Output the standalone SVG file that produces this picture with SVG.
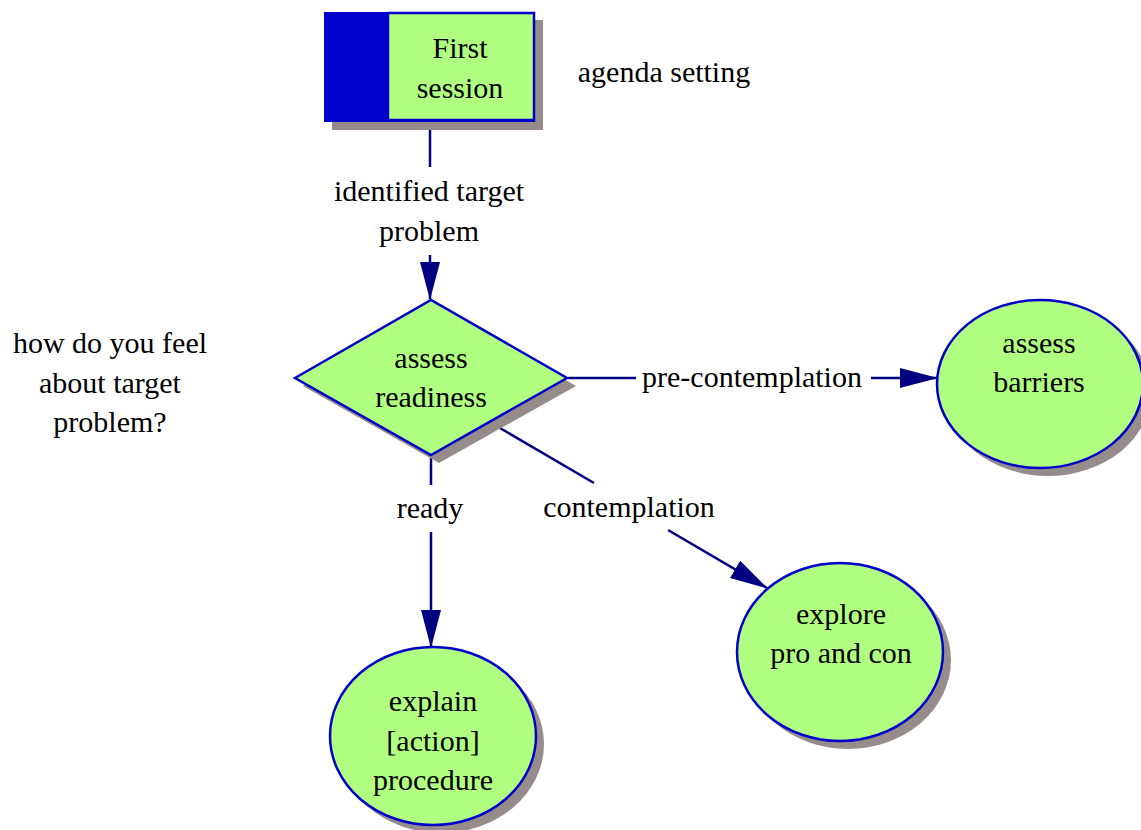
<svg xmlns="http://www.w3.org/2000/svg" width="1141" height="830" viewBox="0 0 1141 830">
  <defs>
    <marker id="arrow" markerWidth="38" markerHeight="20" refX="37" refY="10" orient="auto" markerUnits="userSpaceOnUse">
      <path d="M0,0 L38,10 L0,20 Z" fill="#000080"/>
    </marker>
  </defs>
  <style>
    .shadow { fill: #968c8c; }
    .node { fill: #b0ff80; stroke: #0000cc; stroke-width: 2.5; }
    .edge { fill: none; stroke: #000080; stroke-width: 2.5; }
    .lbl { font-family: 'Liberation Serif', 'Times New Roman', serif; font-size: 30px; fill: #000; text-anchor: middle; }
  </style>

  <!-- connectors -->
  <g id="connectors">
    <line class="edge" x1="430" y1="122" x2="430" y2="167"/>
    <line class="edge" x1="430" y1="255" x2="430" y2="299" marker-end="url(#arrow)"/>
    <text class="lbl" x="429" y="201">identified target</text>
    <text class="lbl" x="429" y="241">problem</text>

    <line class="edge" x1="568" y1="378" x2="636" y2="378"/>
    <line class="edge" x1="871" y1="378" x2="937" y2="378" marker-end="url(#arrow)"/>
    <text class="lbl" x="752" y="387">pre-contemplation</text>

    <line class="edge" x1="431" y1="457" x2="431" y2="485"/>
    <line class="edge" x1="431" y1="532" x2="431" y2="647" marker-end="url(#arrow)"/>
    <text class="lbl" x="430" y="518">ready</text>

    <line class="edge" x1="500" y1="428" x2="594" y2="483"/>
    <line class="edge" x1="668" y1="530" x2="767" y2="588" marker-end="url(#arrow)"/>
    <text class="lbl" x="629" y="517">contemplation</text>
  </g>

  <!-- First session -->
  <g id="first-session">
    <rect class="shadow" x="332" y="20" width="211" height="110"/>
    <rect x="324" y="12" width="211" height="110" fill="#0000cc"/>
    <rect class="node" x="388" y="13" width="146" height="107"/>
    <text class="lbl" x="460" y="58">First</text>
    <text class="lbl" x="460" y="98">session</text>
  </g>

  <g id="agenda-setting">
    <text class="lbl" x="664" y="82">agenda setting</text>
  </g>

  <!-- assess readiness -->
  <g id="assess-readiness">
    <polygon class="shadow" points="303,386 439,307 576,386 439,463"/>
    <polygon class="node" points="295,378 431,300 567,378 431,455"/>
    <text class="lbl" x="431" y="368">assess</text>
    <text class="lbl" x="431" y="407">readiness</text>
  </g>

  <g id="feel-note">
    <text class="lbl" x="110" y="353">how do you feel</text>
    <text class="lbl" x="110" y="393">about target</text>
    <text class="lbl" x="110" y="432">problem?</text>
  </g>

  <!-- assess barriers -->
  <g id="assess-barriers">
    <ellipse class="shadow" cx="1048" cy="392" rx="103" ry="84"/>
    <ellipse class="node" cx="1040" cy="384" rx="103" ry="84"/>
    <text class="lbl" x="1039" y="353">assess</text>
    <text class="lbl" x="1039" y="392">barriers</text>
  </g>

  <!-- explore pro and con -->
  <g id="explore-pro-con">
    <ellipse class="shadow" cx="848" cy="660" rx="103" ry="89"/>
    <ellipse class="node" cx="840" cy="652" rx="103" ry="89"/>
    <text class="lbl" x="841" y="624">explore</text>
    <text class="lbl" x="841" y="663">pro and con</text>
  </g>

  <!-- explain [action] procedure -->
  <g id="explain-procedure">
    <ellipse class="shadow" cx="441" cy="744" rx="103" ry="89"/>
    <ellipse class="node" cx="433" cy="736" rx="103" ry="89"/>
    <text class="lbl" x="433" y="711">explain</text>
    <text class="lbl" x="433" y="751">[action]</text>
    <text class="lbl" x="433" y="790">procedure</text>
  </g>
</svg>
